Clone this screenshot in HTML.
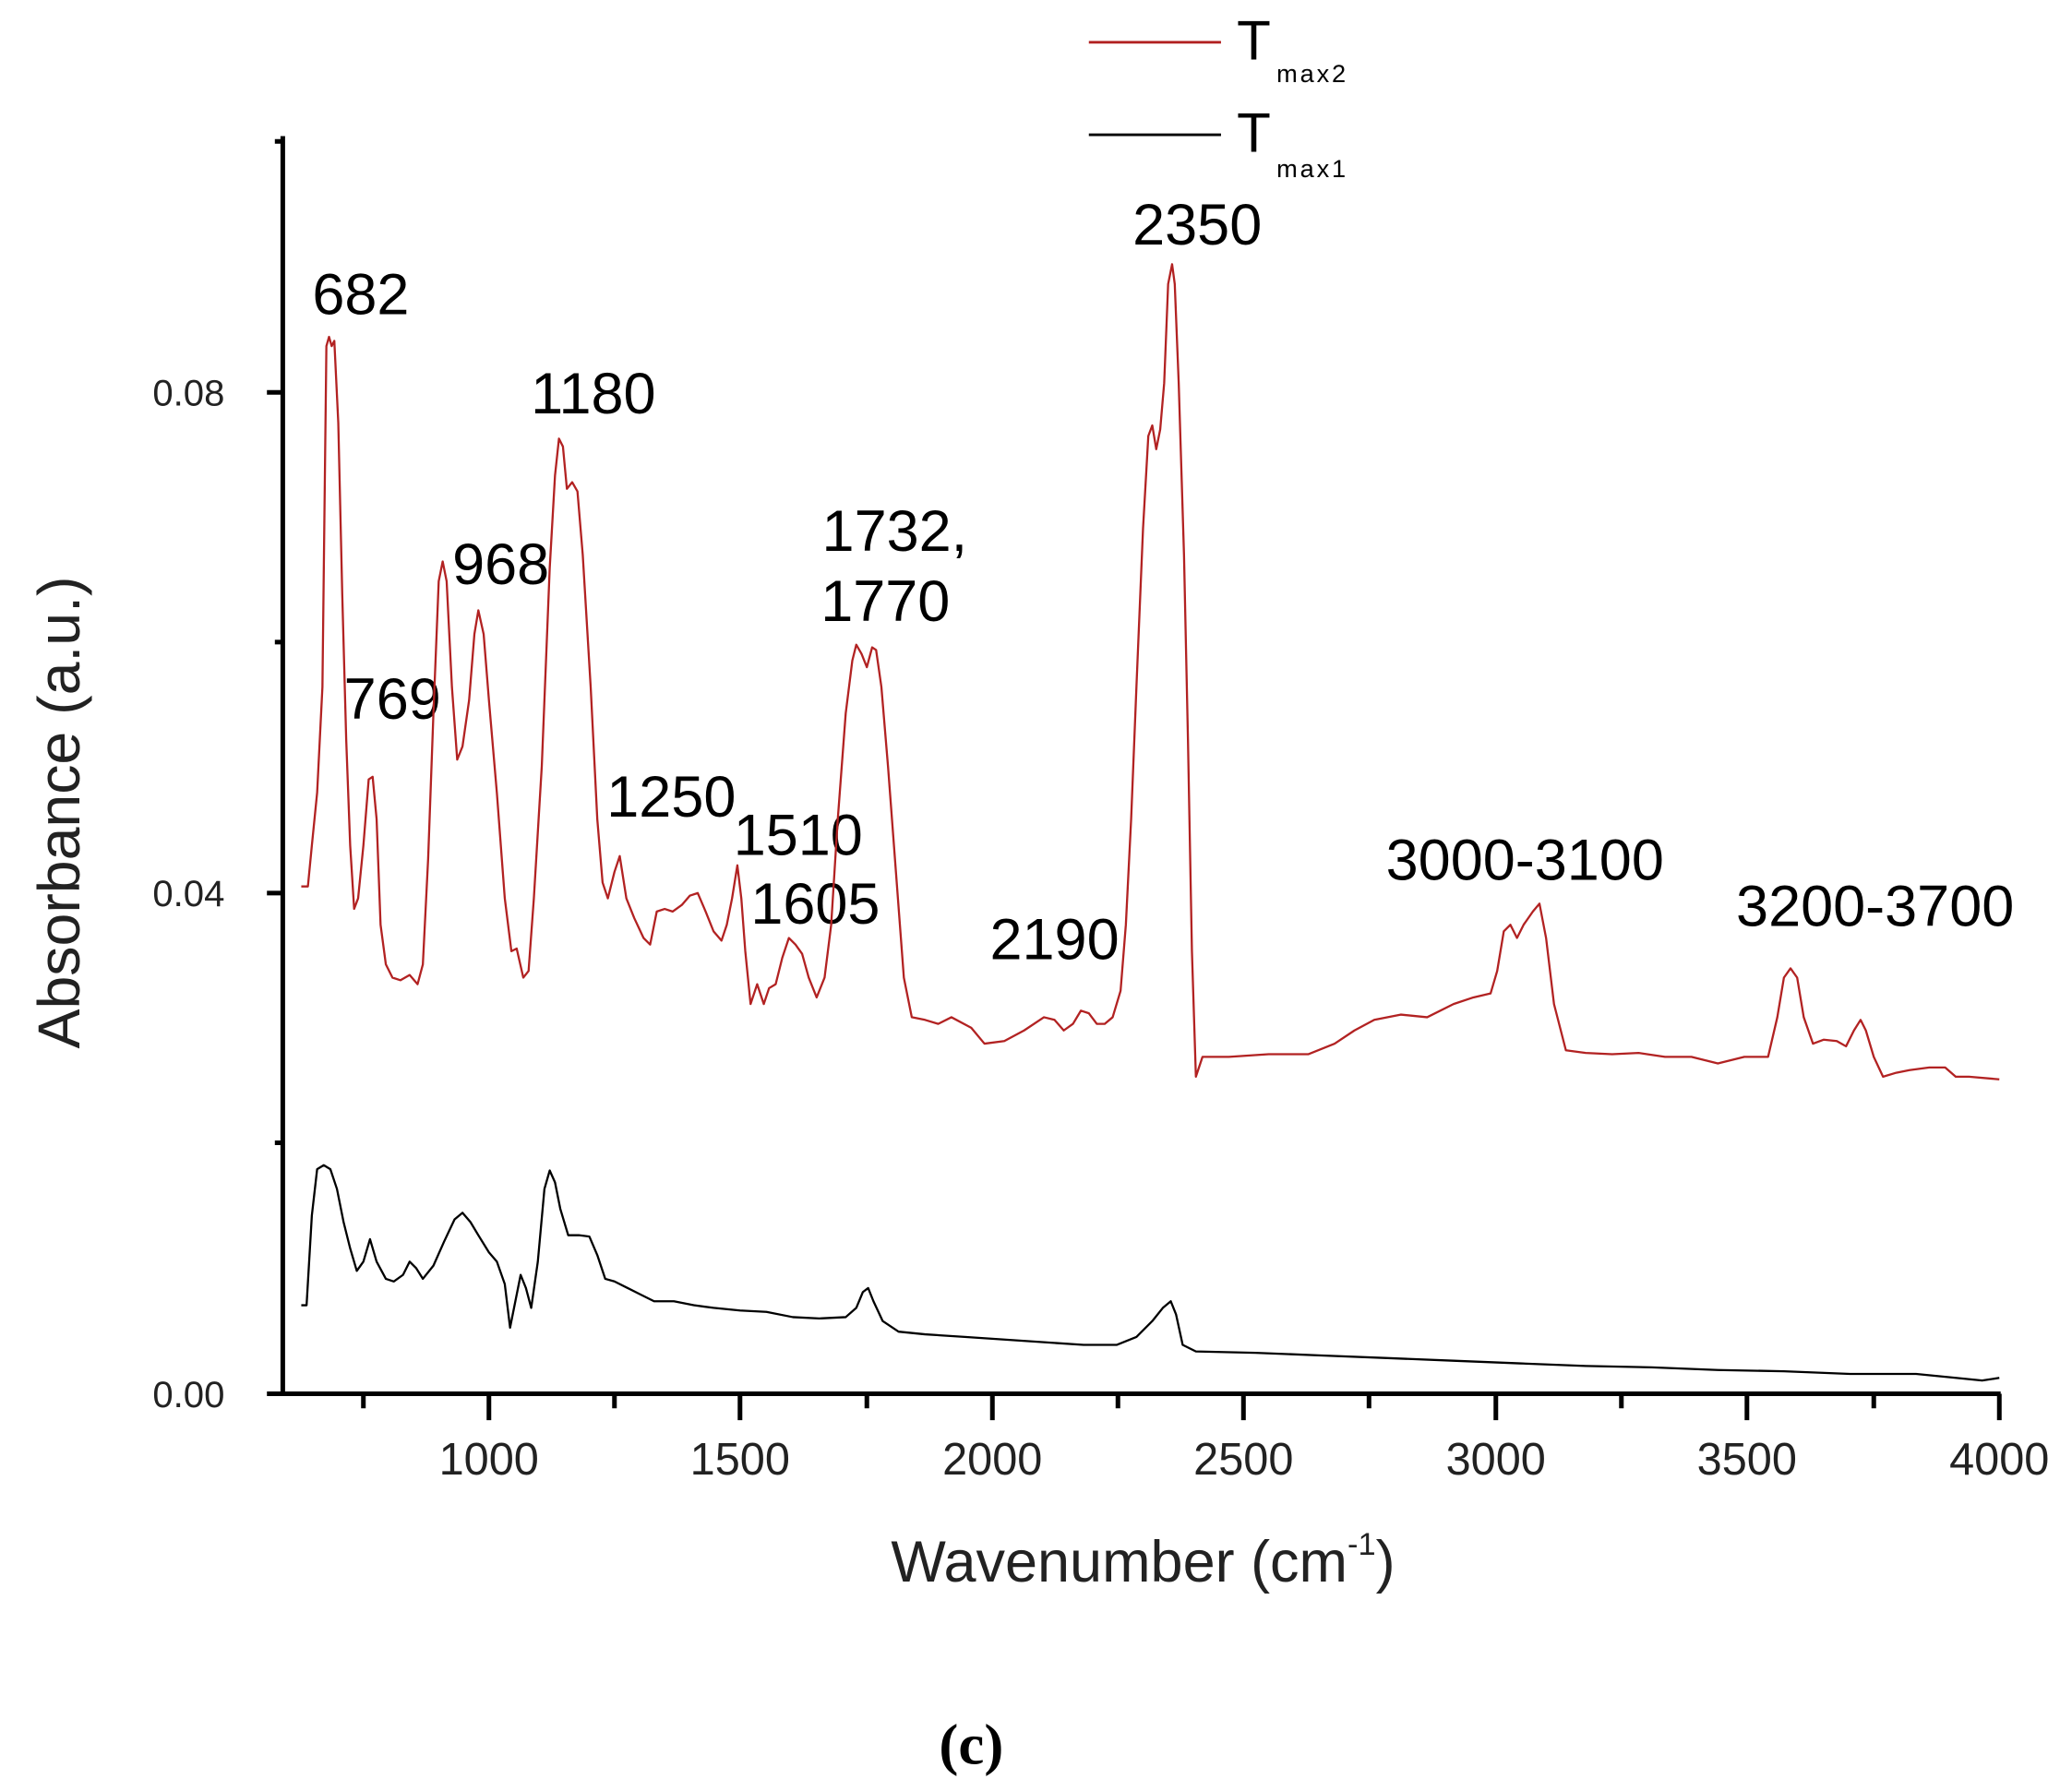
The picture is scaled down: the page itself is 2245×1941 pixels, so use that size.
<!DOCTYPE html>
<html><head><meta charset="utf-8"><style>html,body{margin:0;padding:0;background:#fff}svg{display:block}</style></head><body>
<svg width="2245" height="1941" viewBox="0 0 1568 1355.7" preserveAspectRatio="none" xmlns="http://www.w3.org/2000/svg" font-family="Liberation Sans, Arial, sans-serif">
<rect width="1568" height="1356" fill="#fff"/>
<!-- legend -->
<line x1="824" y1="32" x2="924" y2="32" stroke="#b22222" stroke-width="2"/>
<text x="936" y="45" font-size="42">T</text><text x="966" y="62" font-size="19" letter-spacing="2">max2</text>
<line x1="824" y1="102" x2="924" y2="102" stroke="#000" stroke-width="2"/>
<text x="936" y="115" font-size="42">T</text><text x="966" y="134" font-size="19" letter-spacing="2">max1</text>
<!-- axes -->
<g stroke="#000" stroke-width="3.5" fill="none">
<line x1="214" y1="103" x2="214" y2="1056"/>
<line x1="208" y1="1055" x2="1514" y2="1055"/>
<path d="M370,1055v20M560,1055v20M751,1055v20M941,1055v20M1132,1055v20M1322,1055v20M1513,1055v20"/>
<path d="M275,1055v11M465,1055v11M656,1055v11M846,1055v11M1036,1055v11M1227,1055v11M1418,1055v11"/>
<path d="M214,1055h-12M214,676h-12M214,297h-12"/>
<path d="M214,865h-6M214,486h-6M214,107h-6"/>
</g>
<g font-size="28" text-anchor="end" fill="#222">
<text x="170" y="1065">0.00</text><text x="170" y="686">0.04</text><text x="170" y="307">0.08</text>
</g>
<g font-size="34" text-anchor="middle" fill="#222">
<text x="370" y="1116">1000</text><text x="560" y="1116">1500</text><text x="751" y="1116">2000</text><text x="941" y="1116">2500</text><text x="1132" y="1116">3000</text><text x="1322" y="1116">3500</text><text x="1513" y="1116">4000</text>
</g>
<text x="865" y="1197" font-size="44" text-anchor="middle" fill="#222">Wavenumber (cm<tspan font-size="24" dy="-20">-1</tspan><tspan dy="20">)</tspan></text>
<text transform="translate(60,615) rotate(-90)" font-size="45" text-anchor="middle" fill="#222">Absorbance (a.u.)</text>
<text x="735" y="1335" font-size="44" font-weight="bold" text-anchor="middle" font-family="Liberation Serif, serif">(c)</text>
<!-- peak labels -->
<g font-size="44" text-anchor="middle" fill="#000">
<text x="273" y="238">682</text><text x="297" y="544">769</text><text x="379" y="442">968</text><text x="449" y="313">1180</text>
<text x="508" y="618">1250</text><text x="604" y="647">1510</text><text x="617" y="699">1605</text>
<text x="622" y="417" text-anchor="start">1732,</text><text x="670" y="470">1770</text>
<text x="798" y="726">2190</text><text x="906" y="185">2350</text><text x="1154" y="666">3000-3100</text><text x="1419" y="701">3200-3700</text>
</g>
<polyline fill="none" stroke="#b22222" stroke-width="1.6" stroke-linejoin="round" points="228,671 233,671 236,640 240,600 244,520 247,262 249,255 251,262 253,258 256,320 259,450 262,560 265,640 268,688 271,680 275,640 279,590 282,588 285,620 288,700 292,730 297,740 303,742 310,738 316,745 320,730 324,650 328,540 332,440 335,425 338,440 342,520 346,575 350,565 355,530 359,480 362,462 366,480 370,530 376,600 382,680 387,720 391,718 396,740 400,735 404,680 410,580 416,430 420,360 423,332 426,338 429,370 433,365 437,372 441,420 447,520 452,620 456,668 460,680 465,660 469,648 474,680 480,695 487,710 492,715 497,690 503,688 509,690 516,685 522,678 528,676 534,690 540,705 546,712 550,700 554,680 558,655 561,680 564,720 568,760 573,745 578,760 582,748 587,745 592,725 597,710 602,715 607,722 612,740 618,755 624,740 629,700 634,620 640,540 645,500 648,488 652,495 656,505 660,490 663,492 667,520 672,580 678,660 684,740 690,770 700,772 710,775 720,770 735,778 745,790 760,788 775,780 790,770 798,772 805,780 812,775 818,765 824,767 830,775 836,775 842,770 848,750 852,700 856,620 860,520 865,400 869,330 872,322 875,340 878,325 881,290 884,215 887,200 889,215 892,290 896,420 899,560 902,720 905,815 910,800 930,800 960,798 990,798 1010,790 1025,780 1040,772 1060,768 1080,770 1100,760 1115,755 1128,752 1133,735 1138,705 1143,700 1148,710 1153,700 1160,690 1165,684 1170,710 1176,760 1185,795 1200,797 1220,798 1240,797 1260,800 1280,800 1300,805 1320,800 1338,800 1345,770 1350,740 1355,733 1360,740 1365,770 1372,790 1380,787 1390,788 1397,792 1403,780 1408,772 1412,780 1418,800 1425,815 1435,812 1445,810 1460,808 1472,808 1480,815 1490,815 1513,817"/>
<polyline fill="none" stroke="#000" stroke-width="1.6" stroke-linejoin="round" points="228,988 232,988 236,920 240,885 245,882 250,885 255,900 260,925 265,945 270,962 275,955 280,938 285,955 292,968 298,970 305,965 310,955 315,960 320,968 328,958 336,940 344,923 350,918 356,925 362,935 370,948 376,955 382,972 386,1005 390,985 394,965 398,975 402,990 407,955 412,900 416,886 420,895 424,915 430,935 438,935 446,936 452,950 458,968 465,970 475,975 485,980 495,985 510,985 525,988 540,990 560,992 580,993 600,997 620,998 640,997 648,990 653,978 657,975 661,985 668,1000 680,1008 700,1010 730,1012 760,1014 790,1016 820,1018 845,1018 860,1012 872,1000 880,990 886,985 890,995 895,1018 905,1023 950,1024 1000,1026 1050,1028 1100,1030 1150,1032 1200,1034 1250,1035 1300,1037 1350,1038 1400,1040 1450,1040 1480,1043 1500,1045 1513,1043"/>
</svg>
</body></html>
